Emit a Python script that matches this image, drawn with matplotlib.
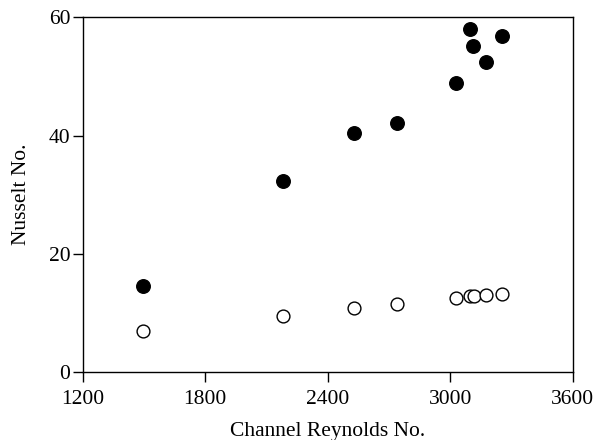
import matplotlib
matplotlib.use("Agg")
import matplotlib.pyplot as plt

# filled circles (upper series)
re_filled = [1495, 2182, 2529, 2738, 3030, 3099, 3114, 3173, 3252]
nu_filled = [14.5, 32.3, 40.4, 42.2, 48.8, 58.0, 55.1, 52.5, 56.8]

# open circles (lower series)
re_open = [1495, 2182, 2527, 2738, 3030, 3098, 3119, 3173, 3252]
nu_open = [6.9, 9.5, 10.8, 11.6, 12.6, 12.8, 12.9, 13.1, 13.3]

xticks = [1200, 1800, 2400, 3000, 3600]
yticks = [0, 20, 40, 60]

plt.rcParams['font.family'] = ['Liberation Serif', 'DejaVu Serif']

fig = plt.figure(figsize=(5.95, 4.4), dpi=100)
ax = fig.add_axes([0.139, 0.154, 0.8235, 0.807])

ax.scatter(re_filled, nu_filled, s=95, color='black', zorder=3)
ax.scatter(re_open, nu_open, s=85, facecolors='white', edgecolors='black',
           linewidths=1.0, zorder=3)

ax.set_xlim(1200, 3600)
ax.set_ylim(0, 60)
ax.set_xticks(xticks)
ax.set_yticks(yticks)
ax.tick_params(direction='out', length=7, width=1, labelsize=15.5)
ax.tick_params(axis='x', pad=6)
ax.tick_params(axis='y', pad=2)
for s in ax.spines.values():
    s.set_linewidth(1.0)

ax.set_xlabel('Channel Reynolds No.', fontsize=15.5, labelpad=9)
ax.set_ylabel('Nusselt No.', fontsize=15.5, labelpad=13)

fig.savefig('out.png', dpi=100)
